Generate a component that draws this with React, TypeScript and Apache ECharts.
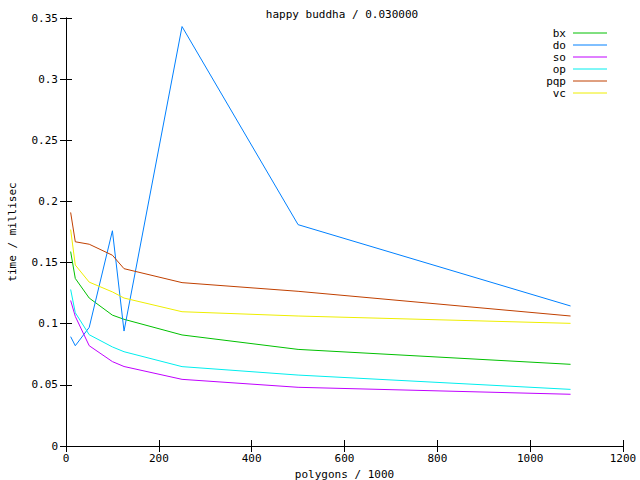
import React, { useEffect, useRef } from "react";
import * as echarts from "echarts";

const polygons = [10, 20, 50, 100, 125, 250, 500, 1087];
const seriesNames = ["bx", "do", "so", "op", "pqp", "vc"];
const seriesColors = ["#00c000", "#0080ff", "#c000ff", "#00eeee", "#c04000", "#eeee00"];
const bx = [0.159, 0.137, 0.121, 0.107, 0.1036, 0.0908, 0.079, 0.0668];
const doValues = [0.0894, 0.082, 0.097, 0.176, 0.094, 0.343, 0.181, 0.1145];
const so = [0.119, 0.106, 0.082, 0.069, 0.065, 0.0545, 0.048, 0.0423];
const op = [0.128, 0.109, 0.091, 0.081, 0.0771, 0.0649, 0.058, 0.0463];
const pqp = [0.191, 0.167, 0.165, 0.156, 0.145, 0.1336, 0.1265, 0.1063];
const vc = [0.177, 0.148, 0.134, 0.126, 0.121, 0.1098, 0.1063, 0.1003];
const xTicks = [0, 200, 400, 600, 800, 1000, 1200];
const yTicks = [0, 0.05, 0.1, 0.15, 0.2, 0.25, 0.3, 0.35];

const FONT = "DejaVu Sans Mono";
const FS = 11;

export default function App() {
  const ref = useRef<HTMLDivElement>(null);
  useEffect(() => {
    if (!ref.current) return;
    const chart = echarts.init(ref.current, null, { renderer: "svg" });
    const values = [bx, doValues, so, op, pqp, vc];
    const gridLeft = 66, gridRight = 17, gridTop = 18, gridBottom = 34;
    const axisCommon = {
      axisLine: { show: true, lineStyle: { color: "#000", width: 1 } },
      axisTick: { show: true, inside: true, length: 6, lineStyle: { color: "#000" } },
      splitLine: { show: false },
    };
    const legendGraphics: any[] = [];
    seriesNames.forEach((n, i) => {
      const y = 33 + i * 12;
      legendGraphics.push({
        type: "text",
        x: 566,
        y,
        style: { text: n, fill: "#000", font: `${FS}px ${FONT}`, textAlign: "right", textVerticalAlign: "middle" },
      });
      legendGraphics.push({
        type: "line",
        shape: { x1: 573, y1: y, x2: 607, y2: y },
        style: { stroke: seriesColors[i], lineWidth: 1 },
      });
    });
    chart.setOption({
      animation: false,
      backgroundColor: "#fff",
      textStyle: { fontFamily: FONT, fontSize: FS, color: "#000" },
      grid: {
        left: gridLeft,
        right: gridRight,
        top: gridTop,
        bottom: gridBottom,
        containLabel: false,
        outerBoundsMode: "none",
      },
      xAxis: [
        {
          type: "value",
          min: xTicks[0],
          max: xTicks[xTicks.length - 1],
          interval: 200,
          position: "bottom",
          name: "polygons / 1000",
          nameLocation: "middle",
          nameGap: 17,
          nameTextStyle: { fontFamily: FONT, fontSize: FS, color: "#000" },
          axisLabel: {
            margin: 7,
            color: "#000",
            fontFamily: FONT,
            fontSize: FS,
            formatter: (v: number) => String(v),
          },
          ...axisCommon,
        },
        {
          type: "value",
          min: xTicks[0],
          max: xTicks[xTicks.length - 1],
          interval: 200,
          position: "top",
          axisLabel: { show: false },
          ...axisCommon,
        },
      ],
      yAxis: [
        {
          type: "value",
          min: yTicks[0],
          max: yTicks[yTicks.length - 1],
          interval: 0.05,
          position: "left",
          name: "time / millisec",
          nameLocation: "middle",
          nameGap: 48,
          nameRotate: 90,
          nameTextStyle: { fontFamily: FONT, fontSize: FS, color: "#000" },
          axisLabel: {
            margin: 8,
            color: "#000",
            fontFamily: FONT,
            fontSize: FS,
            formatter: (v: number) => String(parseFloat(v.toFixed(2))),
          },
          ...axisCommon,
        },
        {
          type: "value",
          min: yTicks[0],
          max: yTicks[yTicks.length - 1],
          interval: 0.05,
          position: "right",
          axisLabel: { show: false },
          ...axisCommon,
        },
      ],
      graphic: [
        {
          type: "text",
          x: 342,
          y: 14,
          style: {
            text: "happy buddha / 0.030000",
            fill: "#000",
            font: `${FS}px ${FONT}`,
            textAlign: "center",
            textVerticalAlign: "middle",
          },
        },
        ...legendGraphics,
      ],
      series: seriesNames.map((n, i) => ({
        name: n,
        type: "line",
        xAxisIndex: 0,
        yAxisIndex: 0,
        data: polygons.map((p, j) => [p, values[i][j]]),
        showSymbol: false,
        symbol: "none",
        lineStyle: { color: seriesColors[i], width: 1 },
        itemStyle: { color: seriesColors[i] },
        z: 2 + i,
      })),
    });
    return () => chart.dispose();
  }, []);
  return (
    <div
      ref={ref}
      style={{ position: "fixed", left: 0, top: 0, width: 640, height: 480, background: "#fff" }}
    />
  );
}
